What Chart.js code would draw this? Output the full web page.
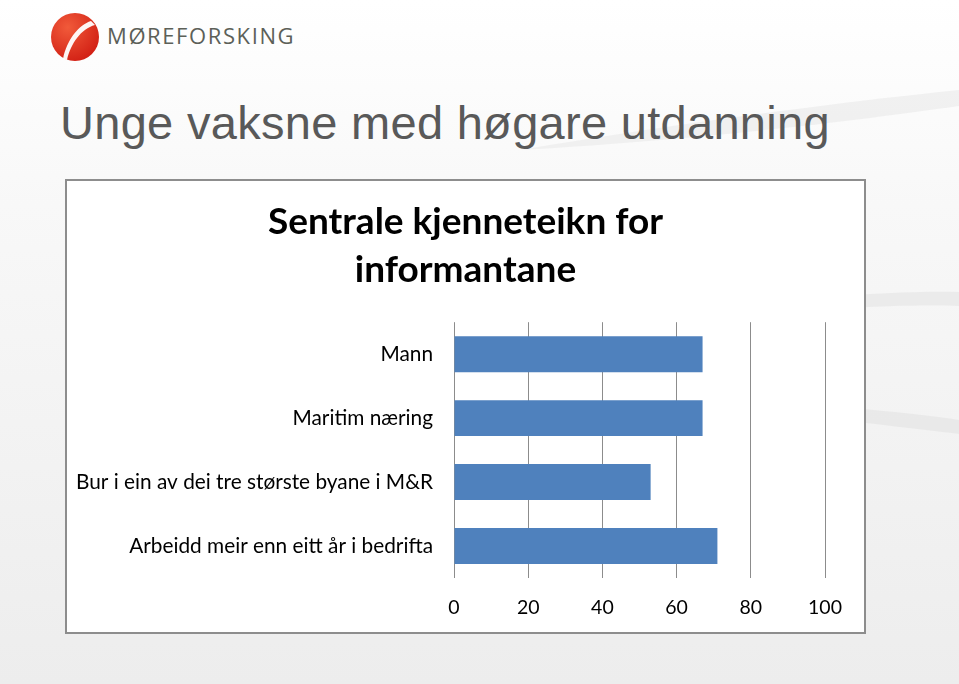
<!DOCTYPE html>
<html>
<head>
<meta charset="utf-8">
<script src="https://cdn.jsdelivr.net/npm/chart.js@4/dist/chart.umd.min.js"></script>
<style>
    html, body { margin: 0; padding: 0; }
    body {
        width: 959px; height: 684px; position: relative; overflow: hidden;
        background: linear-gradient(180deg, #ffffff 0%, #f8f8f8 30%, #ededed 100%);
        font-family: "Liberation Sans", Arial, sans-serif;
    }
    #swoosh { position: absolute; left: 0; top: 0; }
    #logo { position: absolute; left: 51px; top: 13px; }
    #brand {
        position: absolute; left: 107px; top: 20px; font-family: "Open Sans", sans-serif;
        font-size: 22px; letter-spacing: 1.6px; color: #5c6058; font-weight: 400;
    }
    h1 {
        position: absolute; left: 60px; top: 95px; margin: 0; font-weight: 400;
        font-size: 47px; color: #595959; letter-spacing: 0.3px;
    }
    #box {
        position: absolute; left: 65px; top: 179px; width: 797px; height: 451px;
        border: 2px solid #8d8d8d; background: #fff;
    }
</style>
</head>
<body>
<svg id="swoosh" width="959" height="684">
    <path d="M520 150 C 700 120, 860 100, 959 90 L 959 106 C 860 120, 720 138, 520 150 Z" fill="#e9e9e9" opacity="0.6"/>
    <path d="M600 330 C 760 300, 880 290, 959 292 L 959 306 C 880 303, 760 313, 600 330 Z" fill="#e4e4e4" opacity="0.6"/>
    <path d="M640 400 C 780 400, 890 410, 959 420 L 959 434 C 890 426, 780 412, 640 400 Z" fill="#e2e2e2" opacity="0.6"/>
</svg>
<svg id="logo" width="50" height="50" viewBox="0 0 50 50">
    <defs>
        <radialGradient id="rg" cx="0.35" cy="0.3" r="0.8">
            <stop offset="0" stop-color="#f15a3a"/>
            <stop offset="1" stop-color="#d01c12"/>
        </radialGradient>
    </defs>
    <circle cx="24" cy="24" r="24" fill="url(#rg)"/>
    <path d="M40 8 C 28 12, 16 26, 12 46 L 16 47 C 20 30, 30 16, 44 12 Z" fill="#ffffff" opacity="0.95"/>
</svg>
<div id="brand">MØREFORSKING</div>
<h1>Unge vaksne med høgare utdanning</h1>
<div id="box"><canvas id="chart" width="797" height="451"></canvas></div>
<script>
    var chartTitle = ['Sentrale kjenneteikn for', 'informantane'];
    var categories = ['Mann', 'Maritim næring', 'Bur i ein av dei tre største byane i M&R', 'Arbeidd meir enn eitt år i bedrifta'];
    var values = [67, 67, 53, 71];
    var xTicks = [0, 20, 40, 60, 80, 100];

    var labelFont = {family: 'Lato, "Open Sans", sans-serif', size: 20.8};

    var ctx = document.getElementById('chart');
    var myChart = new Chart(ctx, {
        type: 'bar',
        data: {
            labels: categories,
            datasets: [
                {data: values, backgroundColor: '#4f81bd', barPercentage: 0.5625, categoryPercentage: 1}
            ]
        },
        options: {
            indexAxis: 'y',
            responsive: false,
            animation: false,
            layout: {padding: 0},
            plugins: {
                legend: {display: false},
                tooltip: {enabled: false},
                title: {
                    display: true,
                    text: chartTitle,
                    color: '#000',
                    font: {family: 'Lato, "Open Sans", sans-serif', size: 37, weight: 'bold', lineHeight: 1.3},
                    padding: {top: 17, bottom: 28}
                }
            },
            scales: {
                x: {
                    min: 0, max: 100,
                    afterBuildTicks: function (s) {
                        s.ticks = xTicks.map(function (v) { return {value: v}; });
                    },
                    afterFit: function (s) { s.height = 54; },
                    grid: {color: '#8c8c8c', lineWidth: 1, tickLength: 0},
                    border: {display: false},
                    ticks: {color: '#000', font: {family: 'Lato, "Open Sans", sans-serif', size: 19.5}, padding: 18, maxRotation: 0}
                },
                y: {
                    afterFit: function (s) { s.width = 387; },
                    grid: {display: false},
                    border: {display: false},
                    ticks: {color: '#000', font: labelFont, padding: 13}
                },
                // empty right-hand gutter so the title stays centred on the whole box
                gutter: {
                    type: 'linear',
                    position: 'right',
                    afterFit: function (s) { s.width = 39; },
                    grid: {display: false},
                    border: {display: false},
                    ticks: {display: false}
                }
            }
        }
    });
</script>
</body>
</html>
